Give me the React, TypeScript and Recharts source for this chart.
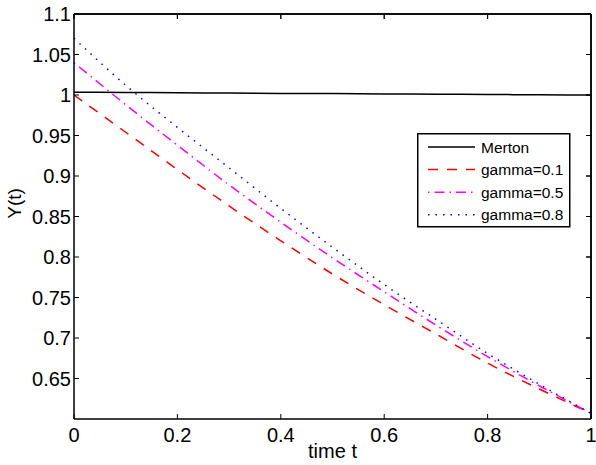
import React from 'react';
import { LineChart, Line, XAxis, YAxis } from 'recharts';

const times = [0, 0.1, 0.2, 0.3, 0.4, 0.5, 0.6, 0.7, 0.8, 0.9, 1];
const merton = [1.0035, 1.0031, 1.0028, 1.0024, 1.002, 1.0017, 1.0013, 1.001, 1.0006, 1.0003, 0.9999];
const gamma01 = [1.0, 0.954, 0.908, 0.863, 0.82, 0.779, 0.741, 0.705, 0.669, 0.637, 0.607];
const gamma05 = [1.04, 0.988, 0.938, 0.889, 0.843, 0.799, 0.757, 0.716, 0.677, 0.641, 0.607];
const gamma08 = [1.07, 1.012, 0.96, 0.91, 0.86, 0.812, 0.766, 0.723, 0.681, 0.643, 0.607];

const xTicks = [0, 0.2, 0.4, 0.6, 0.8, 1];
const yTicks = [0.65, 0.7, 0.75, 0.8, 0.85, 0.9, 0.95, 1, 1.05, 1.1];
const xDomain = [0, 1];
const yDomain = [0.6, 1.1];

const seriesNames = ['Merton', 'gamma=0.1', 'gamma=0.5', 'gamma=0.8'];

const data = times.map((t, i) => ({
  t,
  merton: merton[i],
  g01: gamma01[i],
  g05: gamma05[i],
  g08: gamma08[i],
}));

const W = 596;
const H = 465;
const M = { top: 14, right: 5, left: 74, bottom: 46 };
const PL = M.left;
const PR = W - M.right;
const PT = M.top;
const PB = H - M.bottom;
const sx = (v: number) => PL + ((v - xDomain[0]) / (xDomain[1] - xDomain[0])) * (PR - PL);
const sy = (v: number) => PB - ((v - yDomain[0]) / (yDomain[1] - yDomain[0])) * (PB - PT);

const FONT = '"Liberation Sans", Arial, Helvetica, sans-serif';
const fmt = (v: number) => String(v);

const BottomTick = (p: any) => (
  <g>
    <line x1={p.x} y1={p.y} x2={p.x} y2={p.y - 5} stroke="#000" strokeWidth={1} />
    <text x={p.x} y={p.y + 23} textAnchor="middle" fontSize={20} fontFamily={FONT} fill="#000">
      {fmt(p.payload.value)}
    </text>
  </g>
);
const LeftTick = (p: any) => (
  <g>
    <line x1={p.x} y1={p.y} x2={p.x + 5} y2={p.y} stroke="#000" strokeWidth={1} />
    <text x={p.x - 3} y={p.y + 7} textAnchor="end" fontSize={20} fontFamily={FONT} fill="#000">
      {fmt(p.payload.value)}
    </text>
  </g>
);

// top and right edges of the axes box with inward ticks
const BoxEdges = () => (
  <g>
    <line x1={PL} y1={PT} x2={PR} y2={PT} stroke="#000" strokeWidth={1.5} />
    <line x1={PR} y1={PT} x2={PR} y2={PB} stroke="#000" strokeWidth={1.5} />
    {xTicks.map((v) => (
      <line key={`tx${v}`} x1={sx(v)} y1={PT} x2={sx(v)} y2={PT + 5} stroke="#000" strokeWidth={1} />
    ))}
    {yTicks.map((v) => (
      <line key={`ty${v}`} x1={PR} y1={sy(v)} x2={PR - 5} y2={sy(v)} stroke="#000" strokeWidth={1} />
    ))}
  </g>
);

const legendStyles = [
  { color: '#000000', dash: undefined as string | undefined },
  { color: '#ff0000', dash: '10 9' },
  { color: '#ff00ff', dash: '1.5 5 10 5' },
  { color: '#0000ff', dash: '1.5 6' },
];

const axisLine = { stroke: '#000', strokeWidth: 1.5 };

export default function App() {
  return (
    <div style={{ position: 'absolute', left: 0, top: 0, width: W, height: H, background: '#fff' }}>
      <LineChart width={W} height={H} data={data} margin={{ top: M.top, right: M.right, left: 0, bottom: 0 }}>
        <XAxis
          dataKey="t"
          type="number"
          domain={xDomain}
          ticks={xTicks}
          interval={0}
          height={M.bottom}
          tickSize={0}
          tickMargin={0}
          axisLine={axisLine}
          tickLine={false}
          tick={(p: any) => <BottomTick {...p} />}
          label={{
            content: (lp: any) => {
              const vb = lp.viewBox || { x: PL, y: PB, width: PR - PL };
              return (
                <g>
                  <BoxEdges />
                  <text x={vb.x + vb.width / 2} y={vb.y + 39} textAnchor="middle" fontSize={20} fontFamily={FONT} fill="#000">
                    time t
                  </text>
                </g>
              );
            },
          }}
        />
        <YAxis
          type="number"
          domain={yDomain}
          ticks={yTicks}
          interval={0}
          width={M.left}
          tickSize={0}
          tickMargin={0}
          axisLine={axisLine}
          tickLine={false}
          tick={(p: any) => <LeftTick {...p} />}
          label={{
            content: (lp: any) => {
              const vb = lp.viewBox || { x: 0, y: PT, width: PL, height: PB - PT };
              const cy = vb.y + vb.height / 2 - 13;
              return (
                <text
                  x={0}
                  y={0}
                  transform={`translate(21, ${cy}) rotate(-90)`}
                  textAnchor="middle"
                  fontSize={19}
                  fontFamily={FONT}
                  fill="#000"
                >
                  Y(t)
                </text>
              );
            },
          }}
        />
        <Line type="monotone" dataKey="merton" stroke="#000000" strokeWidth={1.5} dot={false} isAnimationActive={false} />
        <Line type="monotone" dataKey="g01" stroke="#ff0000" strokeWidth={1.5} strokeDasharray="10 9" dot={false} isAnimationActive={false} />
        <Line type="monotone" dataKey="g05" stroke="#ff00ff" strokeWidth={1.5} strokeDasharray="1.5 5 10 5" dot={false} isAnimationActive={false} />
        <Line type="monotone" dataKey="g08" stroke="#0000ff" strokeWidth={1.5} strokeDasharray="1.5 6" dot={false} isAnimationActive={false} />
      </LineChart>
      <svg width={W} height={H} style={{ position: 'absolute', left: 0, top: 0, pointerEvents: 'none' }}>
        <BoxEdges />
      </svg>
      <svg width={155} height={96} style={{ position: 'absolute', left: 417, top: 133, pointerEvents: 'none' }}>
        <rect x={0.75} y={0.75} width={152} height={93} fill="#fff" stroke="#000" strokeWidth={1.5} />
        {seriesNames.map((name, i) => {
          const cy = 14 + i * 22.6;
          const s = legendStyles[i];
          return (
            <g key={name}>
              <line x1={11} y1={cy} x2={58} y2={cy} stroke={s.color} strokeWidth={1.5} strokeDasharray={s.dash} />
              <text x={64} y={cy + 5.5} fontSize={15.5} fontFamily={FONT} fill="#000">
                {name}
              </text>
            </g>
          );
        })}
      </svg>
    </div>
  );
}
